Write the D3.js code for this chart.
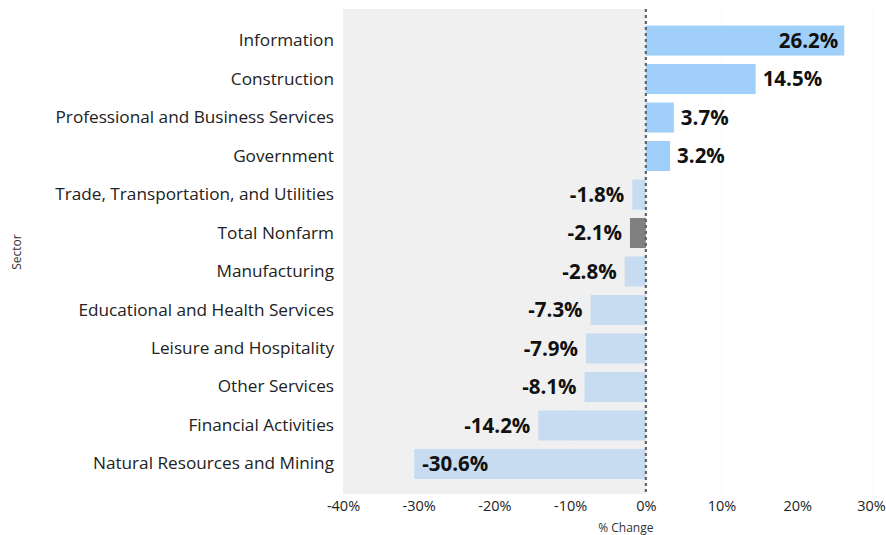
<!DOCTYPE html>
<html>
<head>
<meta charset="utf-8">
<script src="https://cdn.jsdelivr.net/npm/d3@7"></script>
<style>
  body { margin: 0; background: #fff; }
  svg text { font-family: "Open Sans", "Noto Sans", sans-serif; }
</style>
</head>
<body>
<svg id="chart" width="886" height="535"></svg>
<script>
// sectors, top to bottom
let sectors = [
  'Information', 'Construction', 'Professional and Business Services', 'Government',
  'Trade, Transportation, and Utilities', 'Total Nonfarm', 'Manufacturing',
  'Educational and Health Services', 'Leisure and Hospitality', 'Other Services',
  'Financial Activities', 'Natural Resources and Mining'
];
let changes = [26.2, 14.5, 3.7, 3.2, -1.8, -2.1, -2.8, -7.3, -7.9, -8.1, -14.2, -30.6];
let totalSector = 'Total Nonfarm';
let xTicks = [-40, -30, -20, -10, 0, 10, 20, 30];

let svg = d3.select('#chart');

let xScale = d3.scaleLinear()
  .domain([-40, 30])
  .range([343, 873]);

let yScale = d3.scaleBand()
  .domain(sectors)
  .range([21.3, 483.2])
  .paddingInner(0.22)
  .paddingOuter(0.11);

let data = sectors.map((s, i) => ({sector: s, value: changes[i]}));

// gray area on the negative side
svg.append('rect')
  .attr('x', xScale(-40))
  .attr('y', 9)
  .attr('width', xScale(0) - xScale(-40))
  .attr('height', 485)
  .attr('fill', '#f0f0f0');

// faint gridlines
svg.append('g')
  .selectAll('line')
  .data(xTicks.filter(t => t != 0 && t != -40))
  .enter()
  .append('line')
    .attr('x1', d => xScale(d))
    .attr('x2', d => xScale(d))
    .attr('y1', 9)
    .attr('y2', 494)
    .attr('stroke', d => d < 0 ? '#f7f7f7' : '#ececec')
    .attr('stroke-dasharray', '1,3');

// bars
svg.append('g')
  .selectAll('rect')
  .data(data)
  .enter()
  .append('rect')
    .attr('x', d => xScale(Math.min(0, d.value)))
    .attr('y', d => yScale(d.sector))
    .attr('width', d => Math.abs(xScale(d.value) - xScale(0)))
    .attr('height', yScale.bandwidth())
    .attr('fill', d => {
      if (d.sector == totalSector) return '#808080';
      return d.value >= 0 ? '#a0cff9' : '#c7dcf1';
    });

// zero line
svg.append('line')
  .attr('x1', xScale(0))
  .attr('x2', xScale(0))
  .attr('y1', 9)
  .attr('y2', 494)
  .attr('stroke', '#5f6670')
  .attr('stroke-width', 2.2)
  .attr('stroke-dasharray', '3,3');

// value labels: outside the bar end when it fits, otherwise inside
let labels = svg.append('g')
  .selectAll('text')
  .data(data)
  .enter()
  .append('text')
    .attr('y', d => yScale(d.sector) + yScale.bandwidth() / 2)
    .attr('dy', '0.36em')
    .attr('font-size', '20.5px')
    .attr('font-weight', 'bold')
    .attr('fill', '#111')
    .text(d => d.value.toFixed(1) + '%');

labels.each(function(d) {
  let t = d3.select(this);
  let w = this.getComputedTextLength();
  let end = xScale(d.value);
  if (d.value >= 0) {
    if (end + 7 + w > 880) t.attr('x', end - 6).attr('text-anchor', 'end');
    else t.attr('x', end + 7).attr('text-anchor', 'start');
  } else {
    if (end - 7 - w < xScale(-40) + 15) t.attr('x', end + 8).attr('text-anchor', 'start');
    else t.attr('x', end - 8).attr('text-anchor', 'end');
  }
});

// y axis labels
let yAxis = d3.axisLeft(yScale).tickSize(0).tickPadding(9);
svg.append('g')
  .attr('transform', `translate(${xScale(-40)}, 0)`)
  .call(yAxis)
  .call(g => g.select('.domain').remove())
  .selectAll('text')
    .attr('font-size', '17.2px')
    .attr('fill', '#222');

// x axis labels
let xAxis = d3.axisBottom(xScale)
  .tickValues(xTicks)
  .tickSize(0)
  .tickPadding(0)
  .tickFormat(d => d + '%');
svg.append('g')
  .attr('transform', 'translate(0, 501)')
  .call(xAxis)
  .call(g => g.select('.domain').remove())
  .selectAll('text')
    .attr('font-size', '14.5px')
    .attr('fill', '#222')
    .attr('dx', d => d == 30 ? -2 : 0);

// axis titles
svg.append('text')
  .attr('x', xScale(0) - 20)
  .attr('y', 532)
  .attr('text-anchor', 'middle')
  .attr('font-size', '12px')
  .attr('fill', '#333')
  .text('% Change');

svg.append('text')
  .attr('transform', 'translate(21, 252) rotate(-90)')
  .attr('text-anchor', 'middle')
  .attr('font-size', '12px')
  .attr('fill', '#333')
  .text('Sector');
</script>
</body>
</html>
